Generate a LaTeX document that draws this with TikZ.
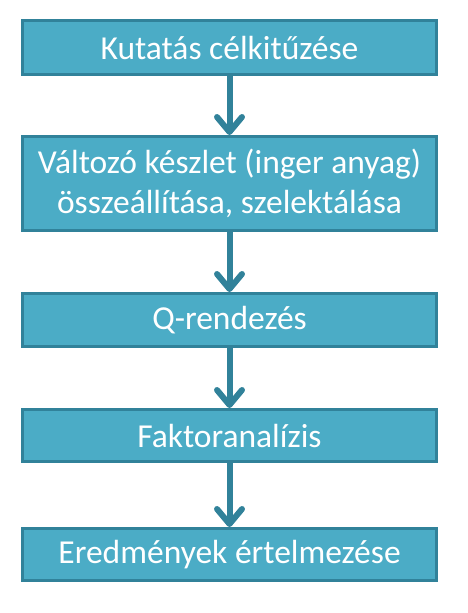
\documentclass[tikz,border=0pt]{standalone}
\usepackage{fontspec}
\setmainfont{Carlito}
\usetikzlibrary{arrows.meta}

\definecolor{boxfill}{HTML}{4BACC6}
\definecolor{boxline}{HTML}{31829A}

\tikzset{
  stepbox/.style={draw=boxline, fill=boxfill, line width=3pt, minimum width=414pt,
    text=white, align=center, inner sep=0pt, font=\fontsize{33.5}{40}\selectfont},
  flow/.style={draw=boxline, line width=6pt,
    -{Straight Barb[length=15pt,width=25pt,line cap=round,line join=round]}}
}

\begin{document}
\begin{tikzpicture}[x=1pt, y=1pt]
    \useasboundingbox (0, 0) rectangle (467, -613);

    % Draw the steps
    \node[stepbox, minimum height=54pt] (goal) at (229.5, -47.5) {Kutatás célkitűzése};
    \node[stepbox, minimum height=94pt] (items) at (229.5, -183.5) {Változó készlet (inger anyag)\\összeállítása, szelektálása};
    \node[stepbox, minimum height=53pt] (qsort) at (229.5, -320) {Q-rendezés};
    \node[stepbox, minimum height=52pt] (factor) at (229.5, -435.5) {Faktoranalízis};
    \node[stepbox, minimum height=52pt] (result) at (229.5, -554.5) {Eredmények értelmezése};

    % Add arrows between the steps
    \draw[flow] (goal) -- (items);
    \draw[flow] (items) -- (qsort);
    \draw[flow] (qsort) -- (factor);
    \draw[flow] (factor) -- (result);
\end{tikzpicture}
\end{document}
